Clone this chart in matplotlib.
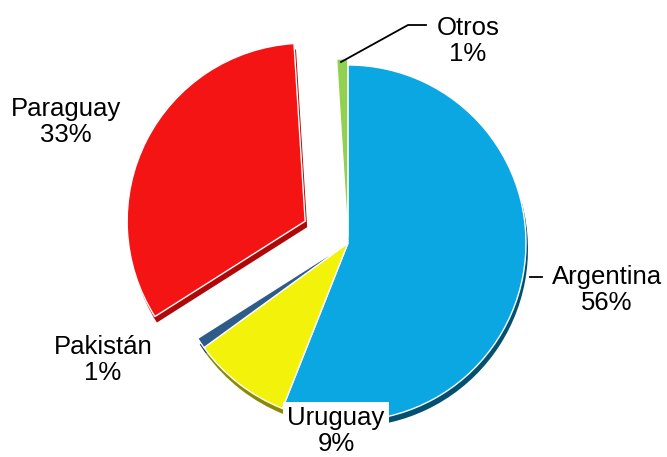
import numpy as np
import matplotlib.pyplot as plt

# data
paises = ['Argentina', 'Uruguay', 'Pakistán', 'Paraguay', 'Otros']
porcentajes = [56, 9, 1, 33, 1]
colores = ['#0AA7E3', '#F2F20A', '#2E5C8A', '#F51414', '#92D050']
sombras = ['#05506E', '#8A8A05', '#1A3550', '#B00808', '#5E8F2E']
separar = [0.0, 0.0, 0.0, 0.27, 0.035]

W, H = 667, 457


def main():
    fig = plt.figure(figsize=(W / 100, H / 100), dpi=100)
    ax = fig.add_axes([0, 0, 1, 1])

    cx, cy = 348, H - 243
    r = 178
    # matplotlib's explode is in data units, so scale by radius
    expl = [e * r for e in separar]

    # 3D-ish shadow underneath
    ax.pie(porcentajes, colors=sombras, explode=expl, startangle=90,
           counterclock=False, radius=r, center=(cx + 2, cy - 6), frame=True,
           wedgeprops=dict(linewidth=0))
    ax.pie(porcentajes, colors=colores, explode=expl, startangle=90,
           counterclock=False, radius=r, center=(cx, cy), frame=True,
           wedgeprops=dict(edgecolor='white', linewidth=1.0))
    ax.set_xlim(0, W)
    ax.set_ylim(0, H)
    ax.set_aspect('equal')
    ax.axis('off')

    fs = 18.5
    kw = dict(fontsize=fs, family=['Liberation Sans', 'DejaVu Sans'],
              ha='center', va='center', linespacing=1.1, color='black')

    etiquetas = ['%s\n%d%%' % (p, v) for p, v in zip(paises, porcentajes)]
    ax.text(607, H - 290, etiquetas[0], **kw)
    ax.text(336, H - 431, etiquetas[1],
            bbox=dict(facecolor='white', edgecolor='none', pad=3), **kw)
    ax.text(103, H - 360, etiquetas[2], **kw)
    ax.text(66, H - 122, etiquetas[3], **kw)
    ax.text(468, H - 41, etiquetas[4], **kw)

    # leader lines
    ax.plot([530, 542], [H - 277, H - 277], color='black', lw=1.3)
    ax.plot([341, 408, 426], [H - 62, H - 25, H - 25], color='black', lw=1.3)

    fig.savefig('out.png', dpi=100)


if __name__ == '__main__':
    main()
